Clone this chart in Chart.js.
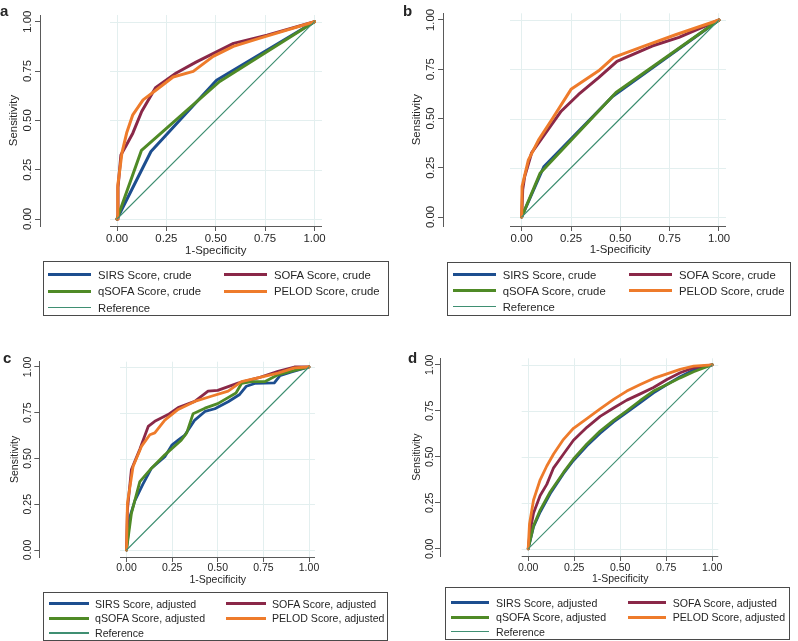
<!DOCTYPE html>
<html>
<head>
<meta charset="utf-8">
<script src="https://cdn.jsdelivr.net/npm/chart.js@4.4.1/dist/chart.umd.min.js"></script>
<style>
  html, body { margin: 0; padding: 0; background: #fff; }
  body { width: 798px; height: 641px; position: relative; overflow: hidden;
         font-family: "Liberation Sans", Arial, sans-serif; color: #262626; }
  canvas { position: absolute; }
  .letter { position: absolute; font-weight: bold; font-size: 15px; line-height: 15px; }
  .xtitle { position: absolute; white-space: nowrap; transform: translate(-50%, -50%); line-height: 1; }
  .legend { position: absolute; box-sizing: border-box; border: 1px solid #4a4a4a; display: grid; }
  .legend .item { display: flex; align-items: center; white-space: nowrap; }
  .legend .swatch { display: inline-block; flex: none; }
</style>
</head>
<body>
<script>
// ---- data ----
const tickValues = [0, 0.25, 0.5, 0.75, 1];
const seriesNames = ['SIRS Score', 'SOFA Score', 'qSOFA Score', 'PELOD Score'];
const seriesColors = ['#1d4e8f', '#8a2848', '#4f8a26', '#ee7b2b'];
const refLine = [[0, 0], [1, 1]];

// a: crude
const aSIRS = [[0, 0], [0.172, 0.342], [0.504, 0.703], [1, 1]];
const aSOFA = [[0, 0], [0.005, 0.16], [0.02, 0.325], [0.045, 0.37], [0.08, 0.435], [0.125, 0.545],
  [0.195, 0.665], [0.3, 0.74], [0.4, 0.795], [0.59, 0.89], [0.76, 0.932], [1, 1]];
const aQSOFA = [[0, 0], [0.124, 0.348], [0.52, 0.697], [1, 1]];
const aPELOD = [[0, 0], [0.004, 0.17], [0.025, 0.335], [0.05, 0.44], [0.08, 0.528], [0.132, 0.604],
  [0.2, 0.655], [0.284, 0.72], [0.386, 0.748], [0.487, 0.824], [0.589, 0.875], [0.724, 0.917], [1, 1]];

// b: crude
const bSIRS = [[0, 0], [0.112, 0.255], [0.46, 0.612], [1, 1]];
const bSOFA = [[0, 0], [0.005, 0.14], [0.015, 0.205], [0.05, 0.325], [0.11, 0.41], [0.2, 0.537],
  [0.288, 0.622], [0.39, 0.708], [0.483, 0.79], [0.661, 0.868], [0.797, 0.912], [1, 1]];
const bQSOFA = [[0, 0], [0.093, 0.222], [0.478, 0.632], [1, 1]];
const bPELOD = [[0, 0], [0.002, 0.155], [0.034, 0.29], [0.085, 0.39], [0.153, 0.495], [0.25, 0.648],
  [0.39, 0.742], [0.466, 0.81], [0.627, 0.87], [0.78, 0.925], [1, 1]];

// c: adjusted
const cSIRS = [[0, 0], [0.018, 0.18], [0.046, 0.27], [0.09, 0.36], [0.137, 0.447], [0.21, 0.51],
  [0.25, 0.575], [0.283, 0.6], [0.32, 0.628], [0.374, 0.71], [0.43, 0.757], [0.484, 0.772],
  [0.557, 0.81], [0.62, 0.85], [0.657, 0.895], [0.703, 0.91], [0.81, 0.913], [0.84, 0.952],
  [0.9, 0.972], [1, 1]];
const cSOFA = [[0, 0], [0.005, 0.22], [0.027, 0.44], [0.073, 0.55], [0.119, 0.675], [0.155, 0.703],
  [0.228, 0.74], [0.283, 0.778], [0.374, 0.812], [0.447, 0.868], [0.5, 0.872], [0.611, 0.912],
  [0.72, 0.94], [0.83, 0.976], [0.92, 1], [1, 1]];
const cQSOFA = [[0, 0], [0.027, 0.2], [0.073, 0.374], [0.137, 0.447], [0.21, 0.52], [0.3, 0.6],
  [0.33, 0.64], [0.365, 0.745], [0.43, 0.775], [0.5, 0.8], [0.6, 0.858], [0.63, 0.91], [0.684, 0.92],
  [0.757, 0.92], [0.83, 0.957], [0.9, 0.976], [1, 1]];
const cPELOD = [[0, 0], [0.005, 0.255], [0.036, 0.456], [0.082, 0.566], [0.128, 0.63], [0.155, 0.64],
  [0.21, 0.71], [0.283, 0.768], [0.374, 0.812], [0.465, 0.84], [0.557, 0.868], [0.63, 0.92],
  [0.72, 0.94], [0.83, 0.967], [0.92, 0.995], [1, 1]];

// d: adjusted
const dSIRS = [[0, 0], [0.029, 0.12], [0.065, 0.2], [0.12, 0.3], [0.192, 0.41], [0.246, 0.48],
  [0.319, 0.56], [0.391, 0.628], [0.464, 0.69], [0.536, 0.742], [0.609, 0.795], [0.681, 0.848],
  [0.754, 0.893], [0.826, 0.935], [0.899, 0.972], [1, 1]];
const dSOFA = [[0, 0], [0.011, 0.1], [0.029, 0.195], [0.065, 0.29], [0.101, 0.35], [0.138, 0.44],
  [0.192, 0.515], [0.246, 0.59], [0.319, 0.66], [0.391, 0.72], [0.464, 0.765], [0.536, 0.808],
  [0.609, 0.842], [0.681, 0.877], [0.754, 0.92], [0.826, 0.957], [0.899, 0.984], [1, 1]];
const dQSOFA = [[0, 0], [0.029, 0.125], [0.065, 0.21], [0.12, 0.31], [0.192, 0.415], [0.246, 0.488],
  [0.319, 0.57], [0.391, 0.64], [0.464, 0.698], [0.536, 0.75], [0.609, 0.806], [0.681, 0.857],
  [0.754, 0.893], [0.826, 0.929], [0.899, 0.962], [1, 1]];
const dPELOD = [[0, 0], [0.007, 0.135], [0.029, 0.265], [0.065, 0.375], [0.101, 0.45], [0.138, 0.515],
  [0.192, 0.595], [0.246, 0.655], [0.319, 0.708], [0.391, 0.76], [0.464, 0.812], [0.536, 0.857],
  [0.609, 0.893], [0.681, 0.926], [0.754, 0.951], [0.826, 0.975], [0.899, 0.993], [1, 1]];

// ---- look ----
const FONT = '"Liberation Sans", Arial, sans-serif';
const TEXT = '#262626';
const AXIS = '#5a5a5a';
const GRID = '#e3efef';
const REF_COLOR = '#3f8f72';
const AXIS_H = 34;

// pixel geometry of each panel (page coordinates)
const panels = [
  { letter: 'a', kind: 'crude', series: [aSIRS, aSOFA, aQSOFA, aPELOD],
    cv: { left: 0, top: 0, width: 400 }, axisX: 40, top: 15, bottom: 226, right: 322, lineStart: 110,
    x0: 117, x1: 314.5, y0: 219, y1: 21.7,
    yLabelX: 28.3, xLabelY: 239.3, yTitleX: 13.5, xTitleY: 250.7, font: 11.4, lw: 3,
    letterPos: [0, 2.5],
    legend: { left: 43, top: 261, width: 346, height: 55, padTop: 4.8, padLeft: 4, rowH: 16.3,
              col: 176, sampleW: 43, gap: 7, font: 11.3 } },
  { letter: 'b', kind: 'crude', series: [bSIRS, bSOFA, bQSOFA, bPELOD],
    cv: { left: 400, top: 0, width: 398 }, axisX: 443, top: 13.3, bottom: 226, right: 726, lineStart: 510,
    x0: 521.7, x1: 719, y0: 217, y1: 20,
    yLabelX: 430.5, xLabelY: 239.3, yTitleX: 416.7, xTitleY: 250.3, font: 11.4, lw: 3,
    letterPos: [403, 2.5],
    legend: { left: 447, top: 262, width: 344, height: 54, padTop: 3.9, padLeft: 5, rowH: 16,
              col: 176.3, sampleW: 43, gap: 6.7, font: 11.3 } },
  { letter: 'c', kind: 'adjusted', series: [cSIRS, cSOFA, cQSOFA, cPELOD],
    cv: { left: 0, top: 320, width: 400 }, axisX: 39.3, top: 361.7, bottom: 557, right: 315, lineStart: 120,
    x0: 126.5, x1: 309, y0: 550, y1: 367,
    yLabelX: 28.3, xLabelY: 568.3, yTitleX: 15, xTitleY: 579.3, font: 10.5, lw: 2.8,
    letterPos: [3, 349.5],
    legend: { left: 42.7, top: 591.7, width: 345.3, height: 49.3, padTop: 3.8, padLeft: 5.3, rowH: 14.6,
              col: 177, sampleW: 40, gap: 6, font: 10.6 } },
  { letter: 'd', kind: 'adjusted', series: [dSIRS, dSOFA, dQSOFA, dPELOD],
    cv: { left: 400, top: 320, width: 398 }, axisX: 440, top: 358.3, bottom: 556, right: 718.3, lineStart: 521.7,
    x0: 528.2, x1: 712.2, y0: 548.8, y1: 364.8,
    yLabelX: 430, xLabelY: 568.3, yTitleX: 416.7, xTitleY: 578.3, font: 10.5, lw: 2.8,
    letterPos: [408, 349.5],
    legend: { left: 445, top: 586.7, width: 345, height: 53.3, padTop: 7.8, padLeft: 5, rowH: 14.5,
              col: 176.7, sampleW: 38, gap: 7, font: 10.6 } }
];

// y gridlines and the x axis line only over the plot region, like Stata does
const stataFrame = {
  id: 'stataFrame',
  beforeDatasetsDraw(chart, args, opts) {
    const { ctx, chartArea, scales: { x, y } } = chart;
    const xs = x.getPixelForValue(opts.lineStart);
    ctx.save();
    ctx.strokeStyle = GRID;
    ctx.lineWidth = 1;
    tickValues.forEach(v => {
      const py = Math.round(y.getPixelForValue(v)) + 0.5;
      ctx.beginPath();
      ctx.moveTo(xs, py);
      ctx.lineTo(chartArea.right, py);
      ctx.stroke();
    });
    ctx.restore();
  },
  afterDatasetsDraw(chart, args, opts) {
    const { ctx, chartArea, scales: { x } } = chart;
    const py = Math.round(chartArea.bottom) + 0.5;
    ctx.save();
    ctx.strokeStyle = AXIS;
    ctx.lineWidth = 1;
    ctx.beginPath();
    ctx.moveTo(x.getPixelForValue(opts.lineStart), py);
    ctx.lineTo(chartArea.right, py);
    ctx.stroke();
    ctx.restore();
  }
};

const measure = document.createElement('canvas').getContext('2d');
const toXY = arr => arr.map(([x, y]) => ({ x, y }));

function buildLegend(chart, p) {
  const L = p.legend;
  const box = document.createElement('div');
  box.className = 'legend';
  Object.assign(box.style, {
    left: L.left + 'px', top: L.top + 'px', width: L.width + 'px', height: L.height + 'px',
    paddingTop: L.padTop + 'px', paddingLeft: L.padLeft + 'px',
    gridTemplateColumns: L.col + 'px auto', gridAutoRows: L.rowH + 'px',
    fontSize: L.font + 'px', alignContent: 'start'
  });
  chart.data.datasets.forEach(ds => {
    const item = document.createElement('div');
    item.className = 'item';
    const sw = document.createElement('span');
    sw.className = 'swatch';
    sw.style.width = L.sampleW + 'px';
    sw.style.height = ds.borderWidth + 'px';
    sw.style.background = ds.borderColor;
    sw.style.marginRight = L.gap + 'px';
    const tx = document.createElement('span');
    tx.textContent = ds.label;
    item.appendChild(sw);
    item.appendChild(tx);
    box.appendChild(item);
  });
  document.body.appendChild(box);
}

panels.forEach(p => {
  const W = p.cv.width;
  const H = Math.round(p.bottom - p.cv.top + AXIS_H);
  const canvas = document.createElement('canvas');
  canvas.width = W;
  canvas.height = H;
  canvas.style.left = p.cv.left + 'px';
  canvas.style.top = p.cv.top + 'px';
  canvas.style.width = W + 'px';
  canvas.style.height = H + 'px';
  document.body.appendChild(canvas);

  const letter = document.createElement('div');
  letter.className = 'letter';
  letter.textContent = p.letter;
  letter.style.left = p.letterPos[0] + 'px';
  letter.style.top = p.letterPos[1] + 'px';
  document.body.appendChild(letter);

  // x title centred under the plot region, not under the whole axis
  const xt = document.createElement('div');
  xt.className = 'xtitle';
  xt.textContent = '1-Specificity';
  xt.style.left = ((p.x0 + p.x1) / 2) + 'px';
  xt.style.top = p.xTitleY + 'px';
  xt.style.fontSize = p.font + 'px';
  document.body.appendChild(xt);

  const xs = p.x1 - p.x0;
  const ys = p.y0 - p.y1;
  const lh = p.font * 1.2;
  measure.font = p.font + 'px ' + FONT;
  const labelW = measure.measureText('0.00').width;

  const datasets = p.series.map((s, i) => ({
    label: seriesNames[i] + ', ' + p.kind,
    data: toXY(s),
    borderColor: seriesColors[i],
    borderWidth: p.lw,
    order: 5 - i
  }));
  datasets.push({
    label: 'Reference', data: toXY(refLine),
    borderColor: REF_COLOR, borderWidth: 1.1, order: 0
  });

  const tickFont = { family: FONT, size: p.font };

  const chart = new Chart(canvas, {
    type: 'line',
    data: { datasets },
    options: {
      responsive: false,
      animation: false,
      events: [],
      elements: {
        point: { radius: 0 },
        line: { tension: 0, borderJoinStyle: 'round', borderCapStyle: 'round', fill: false }
      },
      layout: {
        padding: { left: 0, top: p.top - p.cv.top, right: W - (p.right - p.cv.left), bottom: 0 }
      },
      plugins: {
        legend: { display: false },
        tooltip: { enabled: false },
        stataFrame: { lineStart: (p.lineStart - p.x0) / xs }
      },
      scales: {
        x: {
          type: 'linear', position: 'bottom',
          min: (p.axisX - p.x0) / xs, max: (p.right - p.x0) / xs,
          afterBuildTicks: s => { s.ticks = tickValues.map(v => ({ value: v })); },
          afterFit: s => { s.height = AXIS_H; },
          grid: { color: GRID, tickColor: AXIS, tickLength: 5, lineWidth: 1 },
          border: { display: false },
          ticks: {
            autoSkip: false, minRotation: 0, maxRotation: 0, color: TEXT, font: tickFont,
            padding: p.xLabelY - p.bottom - 5 - lh / 2,
            callback: v => v.toFixed(2)
          }
        },
        y: {
          type: 'linear', position: 'left',
          min: (p.y0 - p.bottom) / ys, max: (p.y0 - p.top) / ys,
          afterBuildTicks: s => { s.ticks = tickValues.map(v => ({ value: v })); },
          afterFit: s => { s.width = p.axisX - p.cv.left; },
          grid: { drawOnChartArea: false, color: AXIS, tickColor: AXIS, tickLength: 5 },
          border: { display: true, color: AXIS, width: 1 },
          ticks: {
            autoSkip: false, minRotation: 90, maxRotation: 90, crossAlign: 'center',
            color: TEXT, font: tickFont,
            padding: p.axisX - 5 - labelW / 2 - p.yLabelX,
            callback: v => v.toFixed(2)
          },
          title: {
            display: true, text: 'Sensitivity', color: TEXT, font: tickFont,
            padding: { top: p.yTitleX - p.cv.left - lh / 2, bottom: 0 }
          }
        }
      }
    },
    plugins: [stataFrame]
  });

  buildLegend(chart, p);
});
</script>
</body>
</html>
